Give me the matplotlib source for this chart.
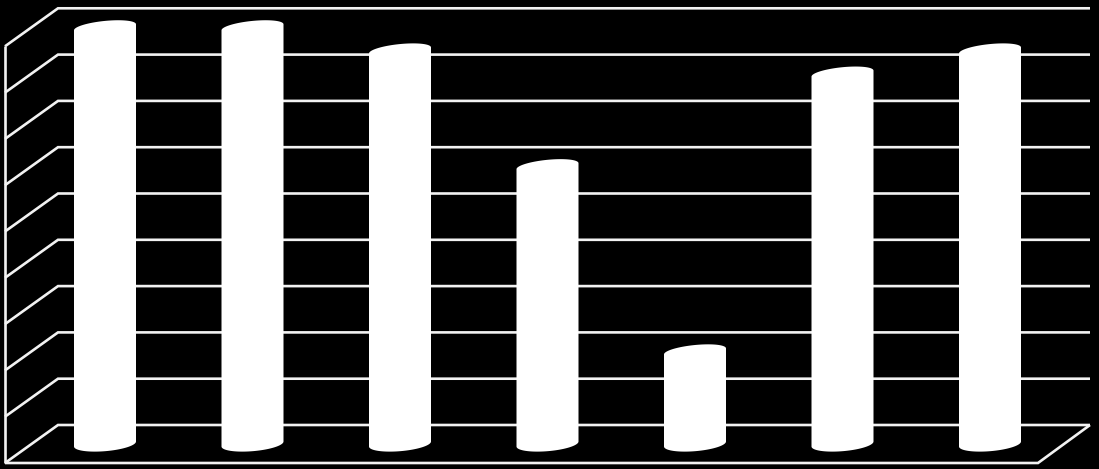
import numpy as np
import matplotlib
matplotlib.use("Agg")
import matplotlib.pyplot as plt

categories = [0, 1, 2, 3, 4, 5, 6]
values = [9, 9, 8.5, 6, 2, 8, 8.5]
grid_levels = [0, 1, 2, 3, 4, 5, 6, 7, 8, 9]

W, H = 1099, 469
X0, DX = 105.0, 147.5      # pixel centre of first bar, bar spacing
Y0, DY = 444.0, 46.3       # pixel of value 0, pixels per unit

fig = plt.figure(figsize=(W / 100, H / 100), dpi=100, facecolor="black")
ax = fig.add_axes([0, 0, 1, 1])
ax.set_xlim(-X0 / DX, (W - X0) / DX)
ax.set_ylim((Y0 - H) / DY, Y0 / DY)
ax.set_facecolor("black")
ax.axis("off")

xf_l, xb_l = (5 - X0) / DX, (58 - X0) / DX      # left wall front / back
xf_r, xb_r = (1038 - X0) / DX, (1090 - X0) / DX  # floor right front / back
dep = 19 / DY                                    # vertical offset of depth
line = dict(color="#f2f2f2", lw=1.9, solid_joinstyle="miter", solid_capstyle="butt", zorder=1)

for g in grid_levels:
    ax.plot([xf_l, xb_l, xb_r], [g - dep, g + dep, g + dep], **line)
ax.plot([xf_l, xf_l], [-dep, grid_levels[-1] - dep], **line)
ax.plot([xf_l, xf_r, xb_r], [-dep, -dep, dep], **line)

half = 31 / DX
t_up = np.linspace(0, np.pi, 100)
t_dn = np.linspace(np.pi, 2 * np.pi, 100)
for c, v in zip(categories, values):
    x_top = c + half * np.cos(t_up)
    y_top = v + (6.4 * np.sin(t_up) + 3.0 * np.cos(t_up)) / DY
    x_bot = c + half * np.cos(t_dn)
    y_bot = (7.2 * np.sin(t_dn) + 2.5 * np.cos(t_dn)) / DY
    ax.fill(np.r_[x_top, x_bot], np.r_[y_top, y_bot], color="white", lw=0, zorder=3)

fig.savefig("out.png", dpi=100, facecolor="black")
